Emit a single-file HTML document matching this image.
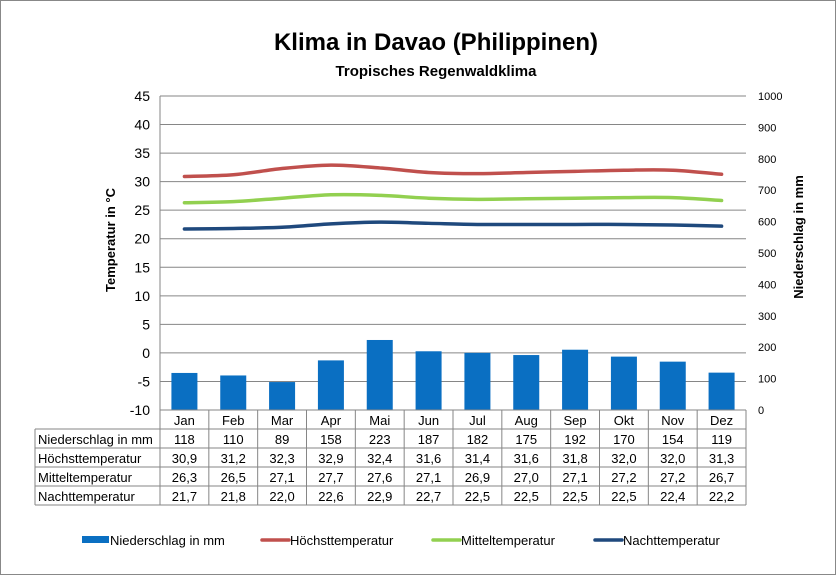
<!DOCTYPE html>
<html><head><meta charset="utf-8"><style>
body{margin:0;background:#fff;font-family:"Liberation Sans",sans-serif}
#wrap{position:relative;width:836px;height:575px;overflow:hidden}
</style></head><body>
<div id="wrap">
<svg id="svg" width="836" height="575" xmlns="http://www.w3.org/2000/svg" font-family="Liberation Sans, sans-serif">
<rect x="0.5" y="0.5" width="835" height="574" fill="#fff" stroke="#888"/>
<text x="436" y="50" text-anchor="middle" font-size="24" font-weight="bold">Klima in Davao (Philippinen)</text>
<text x="436" y="76" text-anchor="middle" font-size="15" font-weight="bold">Tropisches Regenwaldklima</text>
<text transform="translate(115,240) rotate(-90)" text-anchor="middle" font-size="13" font-weight="bold">Temperatur in °C</text>
<text transform="translate(803,237) rotate(-90)" text-anchor="middle" font-size="13" font-weight="bold">Niederschlag in mm</text>
<g id="g"></g>
</svg>
</div>
<script>
const months=["Jan","Feb","Mar","Apr","Mai","Jun","Jul","Aug","Sep","Okt","Nov","Dez"];
const rain=[118,110,89,158,223,187,182,175,192,170,154,119];
const tmax=[30.9,31.2,32.3,32.9,32.4,31.6,31.4,31.6,31.8,32.0,32.0,31.3];
const tmean=[26.3,26.5,27.1,27.7,27.6,27.1,26.9,27.0,27.1,27.2,27.2,26.7];
const tmin=[21.7,21.8,22.0,22.6,22.9,22.7,22.5,22.5,22.5,22.5,22.4,22.2];
const leftTicks=[45,40,35,30,25,20,15,10,5,0,-5,-10];
const rightTicks=[1000,900,800,700,600,500,400,300,200,100,0];
const X0=160,X1=746,Y0=96,Y1=410;
const cw=(X1-X0)/months.length;
const yT=v=>Y1-(v+10)/55*(Y1-Y0);
const yR=v=>Y1-v/1000*(Y1-Y0);
const xC=i=>X0+cw*(i+0.5);
const g=document.getElementById('g');
const NS="http://www.w3.org/2000/svg";
function mk(t,a,txt){const e=document.createElementNS(NS,t);for(const k in a)e.setAttribute(k,a[k]);if(txt!==undefined)e.textContent=txt;g.appendChild(e);return e;}
leftTicks.forEach(v=>{
 const l=mk('line',{x1:X0,x2:X1,y1:yT(v),y2:yT(v),stroke:'#868686','stroke-width':1});
 
 
 const t=mk('text',{x:150,y:yT(v)+5,'text-anchor':'end','font-size':14},String(v));
 
 
});
rightTicks.forEach(v=>{
 const t=mk('text',{x:758,y:yR(v)+4,'font-size':11},String(v));
 
 
});
mk('line',{x1:X0,x2:X0,y1:Y0,y2:Y1,stroke:'#868686'});
rain.forEach((v,i)=>{
 const r=mk('rect',{x:xC(i)-13,y:yR(v),width:26,height:Y1-yR(v),fill:'#0a6fc2'});
 
 
});
function line(arr,col,name){
 const p=arr.map((v,i)=>[xC(i),yT(v)]);
 let d='M'+p[0][0]+','+p[0][1];
 for(let i=0;i<p.length-1;i++){
  const p0=p[i-1]||p[i],p1=p[i],p2=p[i+1],p3=p[i+2]||p2;
  const c1x=p1[0]+(p2[0]-p0[0])/6,c1y=p1[1]+(p2[1]-p0[1])/6;
  const c2x=p2[0]-(p3[0]-p1[0])/6,c2y=p2[1]-(p3[1]-p1[1])/6;
  d+=` C${c1x},${c1y} ${c2x},${c2y} ${p2[0]},${p2[1]}`;
 }
 const e=mk('path',{d,fill:'none',stroke:col,'stroke-width':3.5,'stroke-linecap':'round'});
 
 
}
line(tmax,'#c0504d','line-hoechsttemperatur');
line(tmean,'#92d050','line-mitteltemperatur');
line(tmin,'#1f497d','line-nachttemperatur');
// table
const rows=[["Niederschlag in mm",rain.map(String)],["Höchsttemperatur",tmax.map(v=>v.toFixed(1).replace('.',','))],["Mitteltemperatur",tmean.map(v=>v.toFixed(1).replace('.',','))],["Nachttemperatur",tmin.map(v=>v.toFixed(1).replace('.',','))]];
const rh=19,TY=410,TX=35;
const gc='#868686';
for(let i=0;i<=months.length;i++){
 mk('line',{x1:X0+cw*i,x2:X0+cw*i,y1:TY,y2:TY+rh*5,stroke:gc});
}
mk('line',{x1:TX,x2:TX,y1:TY+rh,y2:TY+rh*5,stroke:gc});
for(let r=0;r<=5;r++){
 mk('line',{x1:r===0?X0:TX,x2:X1,y1:TY+rh*r,y2:TY+rh*r,stroke:gc});
}
months.forEach((m,i)=>{
 const t=mk('text',{x:xC(i),y:TY+15,'text-anchor':'middle','font-size':13},m);
 
 
});
rows.forEach((row,r)=>{
 const y=TY+rh*(r+1)+15;
 const h=mk('text',{x:TX+3,y,'font-size':13},row[0]);
 
 
 row[1].forEach((v,i)=>{
  const t=mk('text',{x:xC(i),y,'text-anchor':'middle','font-size':13},v);
  
  
 });
});
// legend
const leg=[["Niederschlag in mm",'#0a6fc2','bar',82],["Höchsttemperatur",'#c0504d','line',262],["Mitteltemperatur",'#92d050','line',433],["Nachttemperatur",'#1f497d','line',595]];
leg.forEach(([n,c,k,x])=>{
 if(k==='bar'){mk('rect',{x,y:536,width:27,height:7,fill:c});}
 else{mk('line',{x1:x,x2:x+27,y1:540,y2:540,stroke:c,'stroke-width':3.5,'stroke-linecap':'round'});}
 const t=mk('text',{x:x+28,y:545,'font-size':13},n);
 
 
});
</script>
</body></html>
